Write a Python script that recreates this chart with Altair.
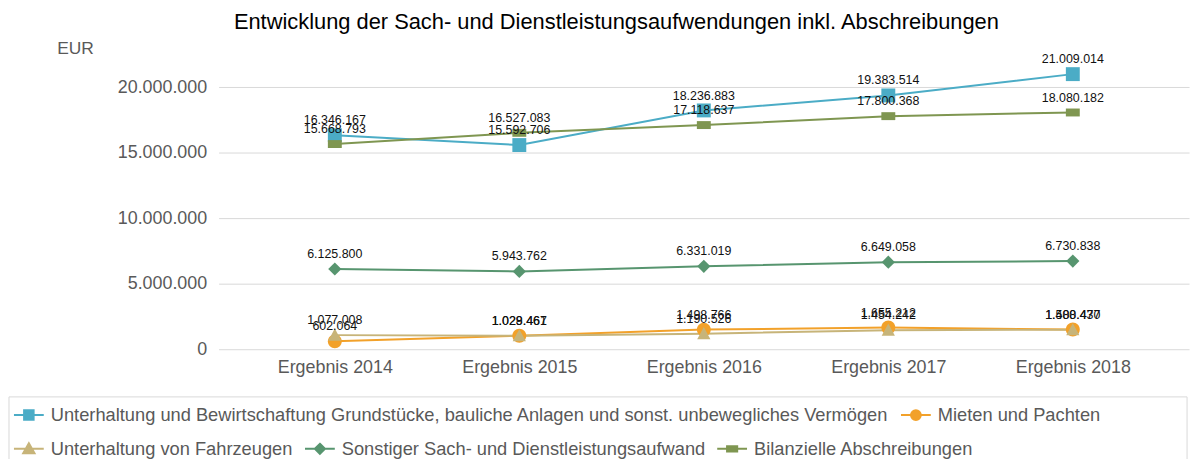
import altair as alt
import pandas as pd

years = ["Ergebnis 2014", "Ergebnis 2015", "Ergebnis 2016", "Ergebnis 2017", "Ergebnis 2018"]
series_names = [
    "Unterhaltung und Bewirtschaftung Grundstücke, bauliche Anlagen und sonst. unbewegliches Vermögen",
    "Mieten und Pachten",
    "Unterhaltung von Fahrzeugen",
    "Sonstiger Sach- und Dienstleistungsaufwand",
    "Bilanzielle Abschreibungen",
]
grundstuecke = [16346167, 15592706, 18236883, 19383514, 21009014]
mieten = [602064, 1029461, 1498766, 1655212, 1500477]
fahrzeuge = [1077008, 1028467, 1190526, 1454242, 1488430]
sonstiger = [6125800, 5943762, 6331019, 6649058, 6730838]
abschreibungen = [15668793, 16527083, 17118637, 17800368, 18080182]
y_ticks = [0, 5000000, 10000000, 15000000, 20000000]

colors = ["#4BACC6", "#F2A12A", "#C7B479", "#57956F", "#7F9651"]
plot_paths = [
    "M-1,-1H1V1H-1Z",
    "M1,0A1,1,0,1,1,-1,0A1,1,0,1,1,1,0Z",
    "M0,-0.95L0.95,0.8H-0.95Z",
    "M0,-0.95L0.95,0L0,0.95L-0.95,0Z",
    "M-1,-0.57H1V0.57H-1Z",
]
legend_paths = [
    "M-1,0H1M-0.32,-0.32H0.32V0.32H-0.32Z",
    "M-1,0H1M0.33,0A0.33,0.33,0,1,1,-0.33,0A0.33,0.33,0,1,1,0.33,0Z",
    "M-1,0H1M0,-0.38L0.38,0.3H-0.38Z",
    "M-1,0H1M0,-0.34L0.34,0L0,0.34L-0.34,0Z",
    "M-1,0H1M-0.34,-0.18H0.34V0.18H-0.34Z",
]

FONT = "Liberation Sans"

rows = []
for name, vals in zip(series_names, [grundstuecke, mieten, fahrzeuge, sonstiger, abschreibungen]):
    for yr, v in zip(years, vals):
        rows.append({"year": yr, "series": name, "value": v,
                     "label": f"{v:,}".replace(",", ".")})
df = pd.DataFrame(rows)

base = alt.Chart(df)

x_enc = alt.X("year:O", sort=years,
              scale=alt.Scale(type="point", padding=0.63),
              axis=alt.Axis(title=None, labelAngle=0, labelFontSize=18, labelFont=FONT,
                            labelColor="#595959", labelPadding=9, ticks=False, domain=False,
                            grid=False))
y_enc = alt.Y("value:Q",
              scale=alt.Scale(domain=[0, 22000000], nice=False),
              axis=alt.Axis(values=y_ticks, title="EUR", titleAngle=0, titleX=-163, titleY=-13,
                            titleAlign="left", titleBaseline="middle", titleFontSize=17.5,
                            titleFont=FONT, titleColor="#595959", titleFontWeight="normal",
                            labelFontSize=18, labelFont=FONT, labelColor="#595959",
                            labelPadding=12, ticks=False, domain=False,
                            gridColor="#D9D9D9", gridWidth=1,
                            labelExpr="replace(format(datum.value, ',.0f'), regexp(',', 'g'), '.')"))

cscale = alt.Scale(domain=series_names, range=colors)

lines = base.mark_line(strokeWidth=2).encode(
    x=x_enc, y=y_enc,
    color=alt.Color("series:N", scale=cscale, legend=None),
)
points = base.mark_point(filled=True, size=196, opacity=1).encode(
    x=x_enc, y=y_enc,
    color=alt.Color("series:N", scale=cscale, legend=None),
    shape=alt.Shape("series:N", scale=alt.Scale(domain=series_names, range=plot_paths), legend=None),
)
texts = base.mark_text(fontSize=12.5, font=FONT, color="#111111", dy=-15, baseline="middle").encode(
    x=x_enc, y=y_enc, text="label:N",
)


def legend_layer(idx, ly):
    names = [series_names[i] for i in idx]
    cols = [colors[i] for i in idx]
    paths = [legend_paths[i] for i in idx]
    leg = alt.Legend(title=None, orient="none", legendX=-207, legendY=ly, direction="horizontal",
                     symbolSize=900, symbolStrokeWidth=2, symbolOpacity=1,
                     labelFontSize=18.4, labelFont=FONT,
                     labelColor="#595959", labelOffset=6, columnPadding=8, padding=0,
                     labelLimit=0)
    return base.mark_point(filled=True, strokeWidth=2, opacity=1).encode(
        fill=alt.Fill("series:N", scale=alt.Scale(domain=names, range=cols), legend=leg),
        stroke=alt.Stroke("series:N", scale=alt.Scale(domain=names, range=cols), legend=leg),
        shape=alt.Shape("series:N", scale=alt.Scale(domain=names, range=paths), legend=leg),
    ).transform_filter("false")


leg1 = legend_layer([0, 1], 340)
leg2 = legend_layer([2, 3, 4], 374)

box = alt.Chart(pd.DataFrame({"k": [0]})).mark_rect(fill=None, stroke="#D9D9D9", strokeWidth=1).encode(
    x=alt.value(-211), x2=alt.value(975), y=alt.value(338), y2=alt.value(420)
)

chart = alt.layer(lines, points, texts, leg1, leg2, box).resolve_scale(
    color="independent", fill="independent", stroke="independent", shape="independent"
).properties(
    width=977, height=290,
    autosize=alt.AutoSizeParams(type="none"),
    padding={"left": 212, "top": 52, "right": 7, "bottom": 109},
    background="white",
    title=alt.Title("Entwicklung der Sach- und Dienstleistungsaufwendungen inkl. Abschreibungen",
                    fontSize=22, font=FONT, color="#000000", fontWeight="normal",
                    anchor="middle", dx=-88, offset=5),
).configure_view(stroke=None)

chart.save("out.html", embed_options={"renderer": "svg", "actions": False})
